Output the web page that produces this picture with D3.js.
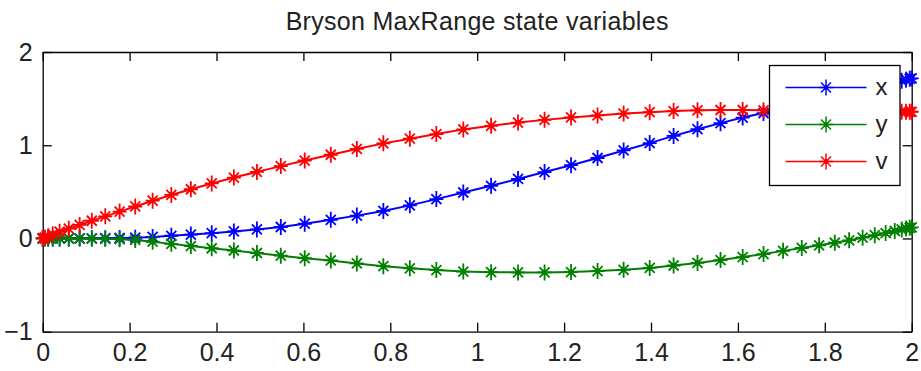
<!DOCTYPE html>
<html>
<head>
<meta charset="utf-8">
<script src="https://cdn.jsdelivr.net/npm/d3@7"></script>
<style>
  body { margin: 0; background: #fff; }
  text { font-family: "Liberation Sans", Arial, sans-serif; }
</style>
</head>
<body>
<svg width="921" height="371"></svg>
<script>
// time nodes (denser near the ends)
var tNodes = [0, 0.0046, 0.0127, 0.023, 0.039, 0.060, 0.085, 0.113, 0.144, 0.177, 0.213, 0.253, 0.296, 0.341, 0.389, 0.440, 0.493, 0.548, 0.603, 0.663, 0.723, 0.784, 0.845, 0.906, 0.968,
  1.032, 1.094, 1.155, 1.216, 1.277, 1.337, 1.397, 1.452, 1.507, 1.560, 1.611, 1.659, 1.704, 1.747, 1.787, 1.823, 1.856, 1.887, 1.915, 1.940, 1.961, 1.977, 1.987, 1.9954, 2];

var xState = [0, 0, 0, 0, 0, 0, 0.001, 0.002, 0.003, 0.005, 0.009, 0.017, 0.029, 0.042, 0.057, 0.075, 0.097, 0.123, 0.158, 0.200, 0.245, 0.295, 0.355, 0.422, 0.493,
  0.565, 0.638, 0.712, 0.786, 0.863, 0.944, 1.023, 1.100, 1.172, 1.237, 1.297, 1.345, 1.394, 1.441, 1.484, 1.524, 1.560, 1.593, 1.624, 1.651, 1.674, 1.692, 1.703, 1.712, 1.717];

var yState = [0, 0, 0, 0, 0, 0, -0.001, -0.002, -0.004, -0.008, -0.016, -0.035, -0.058, -0.081, -0.105, -0.129, -0.156, -0.185, -0.211, -0.236, -0.268, -0.297, -0.320, -0.339, -0.355,
  -0.362, -0.364, -0.364, -0.360, -0.350, -0.336, -0.316, -0.290, -0.262, -0.232, -0.200, -0.167, -0.133, -0.102, -0.073, -0.046, -0.020, 0.008, 0.035, 0.058, 0.080, 0.097, 0.107, 0.114, 0.118];

var vState = [0, 0.010, 0.025, 0.045, 0.072, 0.105, 0.145, 0.190, 0.237, 0.288, 0.343, 0.405, 0.467, 0.528, 0.590, 0.653, 0.714, 0.776, 0.836, 0.898, 0.960, 1.020, 1.070, 1.120, 1.170,
  1.208, 1.243, 1.272, 1.298, 1.320, 1.340, 1.355, 1.366, 1.374, 1.378, 1.378, 1.375, 1.372, 1.369, 1.366, 1.364, 1.362, 1.361, 1.360, 1.360, 1.359, 1.359, 1.359, 1.359, 1.359];

var seriesNames = ["x", "y", "v"];
var seriesColors = ["#0000ff", "#008000", "#ff0000"];
var xTicks = [0, 0.2, 0.4, 0.6, 0.8, 1, 1.2, 1.4, 1.6, 1.8, 2];
var yTicks = [-1, 0, 1, 2];

var svg = d3.select("svg"),
    width = +svg.attr("width"),
    height = +svg.attr("height");

var margin = {left: 42.7, right: 9.3, top: 52, bottom: 39.3};
var w = width - margin.left - margin.right,
    h = height - margin.top - margin.bottom;

var xScale = d3.scaleLinear().domain([0, 2]).range([0, w]);
var yScale = d3.scaleLinear().domain([-1, 2]).range([h, 0]);

var g = svg.append("g").attr("transform", "translate(" + margin.left + "," + margin.top + ")");

var tickLen = 9;

// axes (ticks inward, box on)
var axB = g.append("g").attr("transform", "translate(0," + h + ")")
  .call(d3.axisBottom(xScale).tickValues(xTicks).tickFormat(d3.format("~g"))
    .tickSizeInner(-tickLen).tickSizeOuter(0).tickPadding(12));
var axT = g.append("g")
  .call(d3.axisTop(xScale).tickValues(xTicks).tickFormat("")
    .tickSizeInner(-tickLen).tickSizeOuter(0));
var axL = g.append("g")
  .call(d3.axisLeft(yScale).tickValues(yTicks).tickFormat(d3.format("~g"))
    .tickSizeInner(-tickLen).tickSizeOuter(0).tickPadding(10));
var axR = g.append("g").attr("transform", "translate(" + w + ",0)")
  .call(d3.axisRight(yScale).tickValues(yTicks).tickFormat("")
    .tickSizeInner(-tickLen).tickSizeOuter(0));

[axB, axT, axL, axR].forEach(function(a) {
  a.select(".domain").attr("stroke", "#000").attr("stroke-width", 1.3);
  a.selectAll(".tick line").attr("stroke", "#000").attr("stroke-width", 1.3);
  a.selectAll("text").attr("font-size", 25).attr("fill", "#222")
    .attr("font-family", "'Liberation Sans', Arial, sans-serif");
});

// title
svg.append("text")
  .attr("x", margin.left + w / 2)
  .attr("y", 30)
  .attr("text-anchor", "middle")
  .attr("font-size", 25)
  .attr("letter-spacing", 0.3)
  .attr("fill", "#222")
  .text("Bryson MaxRange state variables");

var starPath = "M0,-8L0,8M-7,0L7,0M-5,-5L5,5M-5,5L5,-5";

var allSeries = [xState, yState, vState];

var line = d3.line()
  .x(function(d, i) { return xScale(tNodes[i]); })
  .y(function(d) { return yScale(d); });

allSeries.forEach(function(vals, k) {
  g.append("path")
    .datum(vals)
    .attr("d", line)
    .attr("fill", "none")
    .attr("stroke", seriesColors[k])
    .attr("stroke-width", 2);

  var marks = g.selectAll(".m" + k)
    .data(vals)
    .enter()
    .append("g")
    .attr("class", "m" + k)
    .attr("transform", function(d, i) { return "translate(" + xScale(tNodes[i]) + "," + yScale(d) + ")"; });
  marks.append("path")
    .attr("d", starPath)
    .attr("fill", "none")
    .attr("stroke", seriesColors[k])
    .attr("stroke-width", 1.8);
  marks.append("circle")
    .attr("r", 2.6)
    .attr("fill", seriesColors[k]);
});

// legend
var legend = svg.append("g").attr("transform", "translate(769.5,65.5)");
legend.append("rect")
  .attr("width", 130.5)
  .attr("height", 120)
  .attr("fill", "#fff")
  .attr("stroke", "#000")
  .attr("stroke-width", 1.3);

seriesNames.forEach(function(name, k) {
  var yy = 22 + k * 37;
  legend.append("line")
    .attr("x1", 16).attr("x2", 97)
    .attr("y1", yy).attr("y2", yy)
    .attr("stroke", seriesColors[k])
    .attr("stroke-width", 1.6);
  legend.append("path")
    .attr("d", starPath)
    .attr("transform", "translate(56.5," + yy + ")")
    .attr("fill", "none")
    .attr("stroke", seriesColors[k])
    .attr("stroke-width", 1.5);
  legend.append("circle")
    .attr("cx", 56.5).attr("cy", yy)
    .attr("r", 2.2)
    .attr("fill", seriesColors[k]);
  legend.append("text")
    .attr("x", 106)
    .attr("y", yy)
    .attr("dy", "0.32em")
    .attr("font-size", 24)
    .attr("fill", "#222")
    .text(name);
});
</script>
</body>
</html>
